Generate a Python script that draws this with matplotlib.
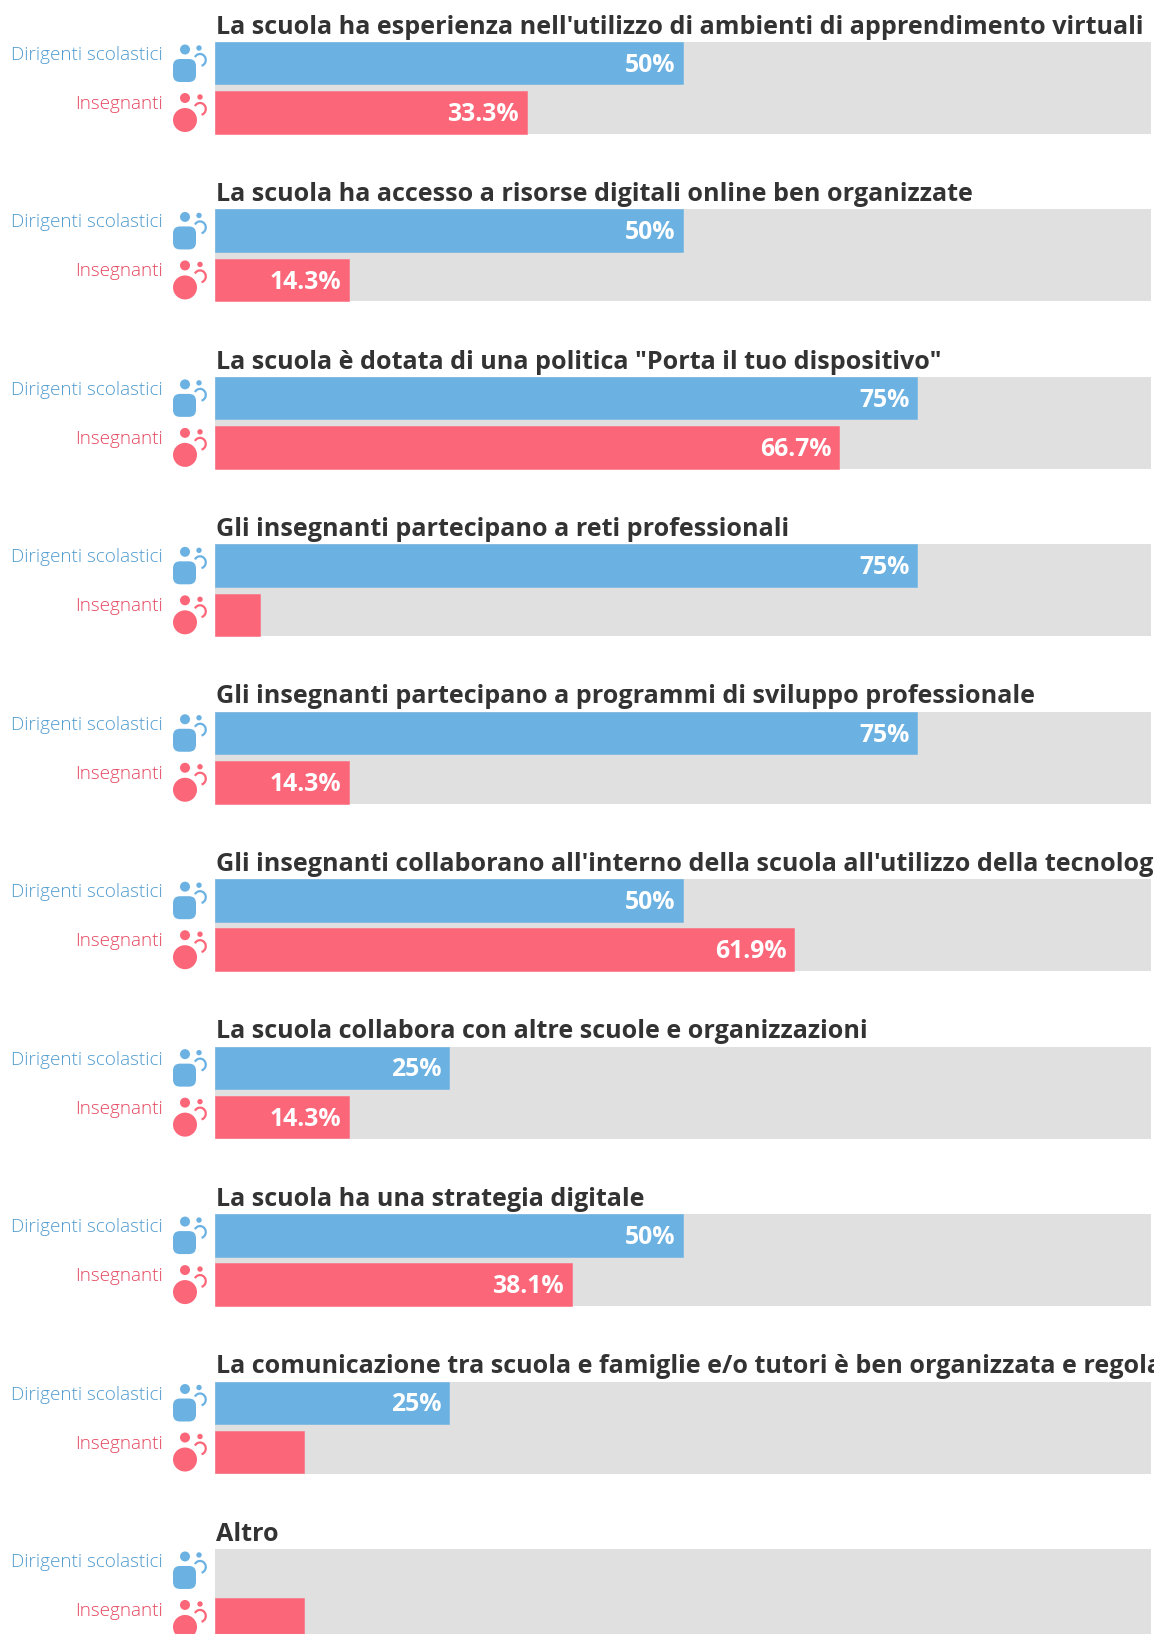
import matplotlib
matplotlib.use('Agg')
import matplotlib.pyplot as plt
from matplotlib.patches import Circle, FancyBboxPatch, Arc
from matplotlib.transforms import Affine2D

titles = [
    "La scuola ha esperienza nell'utilizzo di ambienti di apprendimento virtuali",
    "La scuola ha accesso a risorse digitali online ben organizzate",
    'La scuola è dotata di una politica "Porta il tuo dispositivo"',
    "Gli insegnanti partecipano a reti professionali",
    "Gli insegnanti partecipano a programmi di sviluppo professionale",
    "Gli insegnanti collaborano all'interno della scuola all'utilizzo della tecnologia",
    "La scuola collabora con altre scuole e organizzazioni",
    "La scuola ha una strategia digitale",
    "La comunicazione tra scuola e famiglie e/o tutori è ben organizzata e regolare",
    "Altro",
]
dirigenti = [50, 50, 75, 75, 75, 50, 25, 50, 25, 0]
insegnanti = [33.3, 14.3, 66.7, 4.8, 14.3, 61.9, 14.3, 38.1, 9.5, 9.5]

BLUE = '#6BB2E3'
RED = '#FC6679'
GREY = '#E0E0E0'
W, H = 1154, 1634
PITCH = 167.44
TOP = 42

fig = plt.figure(figsize=(W/100, H/100), dpi=100)
ax = fig.add_axes([215/W, 0, 936/W, 1])
ax.set_xlim(0, 100)
ax.set_ylim((H-TOP)/PITCH, -TOP/PITCH)
ax.axis('off')

# pixel coordinates, origin top left
px = Affine2D().scale(1, -1).translate(0, H)

bar_h = 42.5/PITCH
gap = 49.25/PITCH
back_h = 92/PITCH


def icon(y0, color, square):
    kw = dict(transform=px, facecolor=color, edgecolor='none', clip_on=False)
    fig.add_artist(Arc((200, y0+18), 11.5, 12, theta1=-150, theta2=75, transform=px,
                       color=color, lw=1.6, clip_on=False))
    if square:
        fig.add_artist(Circle((185, y0+7.5), 5, **kw))
        fig.add_artist(Circle((199, y0+6), 2.7, **kw))
        fig.add_artist(FancyBboxPatch((179, y0+23), 11, 11, boxstyle='round,pad=6,rounding_size=7', **kw))
    else:
        fig.add_artist(Circle((185, y0+7), 5, **kw))
        fig.add_artist(Circle((200, y0+6), 2.7, **kw))
        fig.add_artist(Circle((185, y0+29), 12, **kw))


for i, t in enumerate(titles):
    ax.barh(i, 100, height=back_h, left=0, align='edge', color=GREY)
    if dirigenti[i] > 0:
        ax.barh(i, dirigenti[i], height=bar_h, align='edge', color=BLUE, edgecolor=BLUE, linewidth=0.36)
    ax.barh(i+gap, insegnanti[i], height=bar_h, align='edge', color=RED, edgecolor=RED, linewidth=0.36)

    ax.annotate(t, xy=(0, i), xytext=(0.5, 6), textcoords='offset points', ha='left', va='baseline',
                fontsize=18.1, fontweight='bold', family='Open Sans', color='#333333',
                annotation_clip=False).set_clip_on(True)

    for val, y in ((dirigenti[i], i+bar_h/2), (insegnanti[i], i+gap+bar_h/2)):
        if val >= 10:
            ax.annotate(f'{val:g}%', xy=(val, y), xytext=(-5.5, -1.5), textcoords='offset points',
                        ha='right', va='center', fontsize=17.8, fontweight='bold',
                        family='Open Sans', color='white')

    ytop = TOP + i*PITCH
    fig.text(163/W, 1-(ytop+13)/H, 'Dirigenti scolastici', ha='right', va='center',
             fontsize=13.6, family='Open Sans', fontweight='light', color='#4F9BCF')
    fig.text(163/W, 1-(ytop+62)/H, 'Insegnanti', ha='right', va='center',
             fontsize=13.6, family='Open Sans', fontweight='light', color='#E5475F')
    icon(ytop, BLUE, True)
    icon(ytop+49, RED, False)

fig.savefig('out.png', dpi=100)
